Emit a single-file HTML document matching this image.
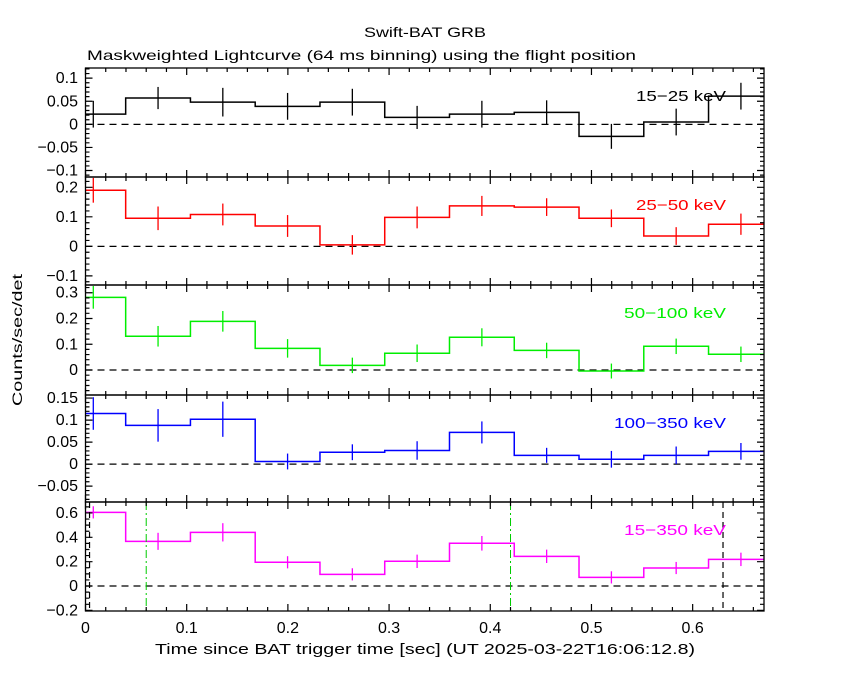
<!DOCTYPE html>
<html><head><meta charset="utf-8"><style>
html,body{margin:0;padding:0;background:#fff}
svg{display:block;font-family:"Liberation Sans","DejaVu Sans",sans-serif}
</style></head><body>
<svg id="chart" width="850" height="680" viewBox="0 0 850 680" xmlns="http://www.w3.org/2000/svg">
<text x="425" y="37" text-anchor="middle" font-size="14" textLength="122" lengthAdjust="spacingAndGlyphs">Swift-BAT GRB</text>
<text x="87" y="60" font-size="14" textLength="549" lengthAdjust="spacingAndGlyphs">Maskweighted Lightcurve (64 ms binning) using the flight position</text>
<text transform="translate(22,340) rotate(-90)" text-anchor="middle" font-size="14" textLength="132" lengthAdjust="spacingAndGlyphs">Counts/sec/det</text>
<text x="425" y="654" text-anchor="middle" font-size="15" textLength="540" lengthAdjust="spacingAndGlyphs">Time since BAT trigger time [sec] (UT 2025-03-22T16:06:12.8)</text>
<g id="plots"></g>
</svg>
<script>
const binCenters=[0.0077,0.0717,0.1357,0.1997,0.2637,0.3277,0.3917,0.4557,0.5197,0.5837,0.6477];
const binWidth=0.064;
const xTicks=[0,0.1,0.2,0.3,0.4,0.5,0.6];
const xTickLabels=["0","0.1","0.2","0.3","0.4","0.5","0.6"];
const vals1=[0.022,0.057,0.048,0.039,0.048,0.015,0.022,0.026,-0.026,0.005,0.061];
const errs1=[0.029,0.024,0.031,0.029,0.029,0.025,0.029,0.026,0.027,0.029,0.029];
const vals2=[0.19,0.095,0.108,0.069,0.005,0.098,0.137,0.133,0.095,0.035,0.075];
const errs2=[0.042,0.04,0.037,0.037,0.033,0.037,0.034,0.03,0.03,0.03,0.036];
const vals3=[0.282,0.131,0.189,0.084,0.018,0.065,0.127,0.076,-0.004,0.092,0.061];
const errs3=[0.044,0.04,0.04,0.036,0.03,0.034,0.035,0.03,0.029,0.03,0.03];
const vals4=[0.115,0.088,0.102,0.006,0.027,0.031,0.072,0.02,0.011,0.02,0.029];
const errs4=[0.037,0.037,0.04,0.018,0.018,0.021,0.025,0.017,0.019,0.02,0.019];
const vals5=[0.605,0.367,0.441,0.195,0.096,0.203,0.351,0.244,0.071,0.148,0.219];
const errs5=[0.05,0.07,0.075,0.05,0.05,0.055,0.06,0.055,0.05,0.05,0.055];
const yTicks1=[-0.1,-0.05,0,0.05,0.1], yTickLabels1=["−0.1","−0.05","0","0.05","0.1"];
const yTicks2=[-0.1,0,0.1,0.2], yTickLabels2=["−0.1","0","0.1","0.2"];
const yTicks3=[0,0.1,0.2,0.3], yTickLabels3=["0","0.1","0.2","0.3"];
const yTicks4=[-0.05,0,0.05,0.1,0.15], yTickLabels4=["−0.05","0","0.05","0.1","0.15"];
const yTicks5=[-0.2,0,0.2,0.4,0.6], yTickLabels5=["−0.2","0","0.2","0.4","0.6"];
const greenLines=[0.06,0.42];
const blackLines=[0.004,0.63];

const X0=85.5,X1=764,TMIN=0,TMAX=0.6705;
const x=t=>X0+(t-TMIN)/(TMAX-TMIN)*(X1-X0);
const NS="http://www.w3.org/2000/svg";
const root=document.getElementById('plots');
function mk(tag,attrs,parent){const e=document.createElementNS(NS,tag);for(const k in attrs)e.setAttribute(k,attrs[k]);(parent||root).appendChild(e);return e;}

const panels=[
 {top:68,bot:177,ymin:-0.114,ymax:0.122,vals:vals1,errs:errs1,ticks:yTicks1,labels:yTickLabels1,minor:0.01,color:"#000",name:"15−25 keV",key:"15-25kev",lw:90},
 {top:177,bot:285,ymin:-0.131,ymax:0.235,vals:vals2,errs:errs2,ticks:yTicks2,labels:yTickLabels2,minor:0.02,color:"#ff0000",name:"25−50 keV",key:"25-50kev",lw:90},
 {top:285,bot:395,ymin:-0.097,ymax:0.33,vals:vals3,errs:errs3,ticks:yTicks3,labels:yTickLabels3,minor:0.02,color:"#00ee00",name:"50−100 keV",key:"50-100kev",lw:102},
 {top:395,bot:502,ymin:-0.086,ymax:0.157,vals:vals4,errs:errs4,ticks:yTicks4,labels:yTickLabels4,minor:0.01,color:"#0000ff",name:"100−350 keV",key:"100-350kev",lw:112},
 {top:502,bot:611,ymin:-0.205,ymax:0.69,vals:vals5,errs:errs5,ticks:yTicks5,labels:yTickLabels5,minor:0.05,color:"#ff00ff",name:"15−350 keV",key:"15-350kev",lw:102}
];

panels.forEach((p,pi)=>{
 const g=mk('g',{});
 
 
 const y=v=>p.bot-(v-p.ymin)/(p.ymax-p.ymin)*(p.bot-p.top);
 const z=mk('line',{x1:X0,x2:X1,y1:y(0),y2:y(0),stroke:"#000","stroke-width":1.3,"stroke-dasharray":"7,5"},g);
 
 
 let d="";
 p.vals.forEach((v,i)=>{
  const a=Math.max(TMIN,binCenters[i]-binWidth/2), b=Math.min(TMAX,binCenters[i]+binWidth/2);
  d+=(i===0?"M":"L")+x(a)+","+y(v)+" L"+x(b)+","+y(v)+" ";
 });
 const st=mk('path',{d:d,fill:"none",stroke:p.color,"stroke-width":1.5},g);
 
 
 p.vals.forEach((v,i)=>{
  const cx=x(binCenters[i]);
  const eb=mk('line',{x1:cx,x2:cx,y1:Math.max(p.top,y(v+p.errs[i])),y2:Math.min(p.bot,y(v-p.errs[i])),stroke:p.color,"stroke-width":1.3},g);
  
  
 });
 if(pi===4){
  greenLines.forEach(t=>{const l=mk('line',{x1:x(t),x2:x(t),y1:p.top,y2:p.bot,stroke:"#00cc00","stroke-width":1,"stroke-dasharray":"8,3,2,3"},g);
   
   });
  blackLines.forEach(t=>{const l=mk('line',{x1:x(t),x2:x(t),y1:p.top,y2:p.bot,stroke:"#000","stroke-width":1.2,"stroke-dasharray":"6,4"},g);
   
   });
 }
 const fr=mk('rect',{x:X0,y:p.top,width:X1-X0,height:p.bot-p.top,fill:"none",stroke:"#000","stroke-width":1.3},g);
 
 
 let td="";
 for(let k=0;k<=33;k++){const t=k*0.02;if(t>TMAX)break;const L=(k%5===0)?7:4;const xx=x(t);
  td+=`M${xx},${p.bot}V${p.bot-L}M${xx},${p.top}V${p.top+L}`;}
 const m0=Math.ceil(p.ymin/p.minor-1e-6), m1=Math.floor(p.ymax/p.minor+1e-6);
 for(let k=m0;k<=m1;k++){const v=k*p.minor;const major=p.ticks.some(tv=>Math.abs(tv-v)<1e-6);const L=major?7:4;const yy=y(v);
  td+=`M${X0},${yy}H${X0+L}M${X1},${yy}H${X1-L}`;}
 const tk=mk('path',{d:td,stroke:"#000","stroke-width":1.2,fill:"none"},g);
 
 
 p.ticks.forEach((v,i)=>{const t=mk('text',{x:78,y:y(v)+5,"text-anchor":"end","font-size":16},g);t.textContent=p.labels[i];
  
  });
 const lb=mk('text',{x:726,y:p.top+33,"text-anchor":"end","font-size":15,fill:p.color,textLength:p.lw,lengthAdjust:"spacingAndGlyphs"},g);
 lb.textContent=p.name;
 
 
});
xTicks.forEach((t,i)=>{const e=mk('text',{x:x(t),y:633,"text-anchor":"middle","font-size":16});e.textContent=xTickLabels[i];
 
 });
</script>
</body></html>
